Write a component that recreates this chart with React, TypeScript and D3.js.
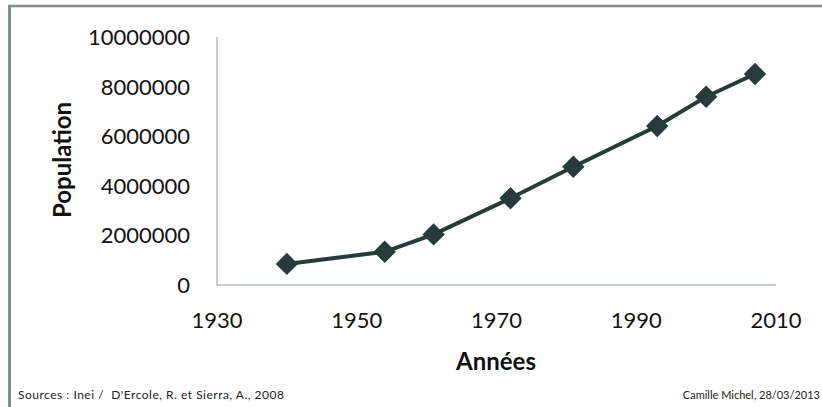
import * as d3 from "d3";

const WIDTH = 822;
const HEIGHT = 407;

const years = [1940, 1954, 1961, 1972, 1981, 1993, 2000, 2007];
const population = [850000, 1340000, 2040000, 3500000, 4770000, 6410000, 7590000, 8510000];
const xTicks = [1930, 1950, 1970, 1990, 2010];
const yTicks = [0, 2000000, 4000000, 6000000, 8000000, 10000000];

const LINE_COLOR = "#263b3a";
const AXIS_COLOR = "#8d9c9a";
const FONT = "Lato, 'Open Sans', sans-serif";

export default function App() {
  const xScale = d3.scaleLinear().domain([1930, 2010]).range([217, 776]);
  const yScale = d3.scaleLinear().domain([0, 10000000]).range([285, 37]);

  const points = years.map((y, i) => ({ year: y, value: population[i] }));

  const line = d3
    .line<{ year: number; value: number }>()
    .x((d) => xScale(d.year))
    .y((d) => yScale(d.value));

  const diamond = d3.symbol(d3.symbolSquare, 250)();

  return (
    <svg
      width={WIDTH}
      height={HEIGHT}
      style={{ position: "absolute", left: 0, top: 0, background: "white" }}
      fontFamily={FONT}
    >
      {/* frame, cropped at right and bottom */}
      <line x1={9.5} x2={9.5} y1={5} y2={HEIGHT} stroke="#7f8f8c" strokeWidth={3} />
      <line x1={8} x2={WIDTH} y1={6} y2={6} stroke="#7f8f8c" strokeWidth={2.5} />

      {/* axes */}
      <line x1={xScale(1930)} x2={xScale(1930)} y1={yScale(10000000)} y2={yScale(0)} stroke={AXIS_COLOR} strokeWidth={1} />
      <line x1={xScale(1930)} x2={xScale(2010)} y1={yScale(0)} y2={yScale(0)} stroke={AXIS_COLOR} strokeWidth={1} />

      {yTicks.map((t) => (
        <text key={t} x={190} y={yScale(t)} dy="0.36em" textAnchor="end" fontSize={22} fill="#111">
          {t}
        </text>
      ))}
      {xTicks.map((t) => (
        <text key={t} x={xScale(t)} y={328} textAnchor="middle" fontSize={22} fill="#111">
          {t}
        </text>
      ))}

      <text
        transform={`translate(71,160) rotate(-90)`}
        textAnchor="middle"
        fontSize={24}
        fontWeight="bold"
        fill="#111"
      >
        Population
      </text>
      <text x={496} y={370} textAnchor="middle" fontSize={24} fontWeight="bold" fill="#111">
        Années
      </text>

      <path d={line(points) || ""} fill="none" stroke={LINE_COLOR} strokeWidth={4} />
      {points.map((d) => (
        <path
          key={d.year}
          d={diamond || ""}
          transform={`translate(${xScale(d.year)},${yScale(d.value)}) rotate(45)`}
          fill={LINE_COLOR}
        />
      ))}

      <text x={18} y={399} fontSize={12} letterSpacing={0.5} fill="#222" style={{ whiteSpace: "pre" }}>
        {"Sources : Inei /  D'Ercole, R. et Sierra, A., 2008"}
      </text>
      <text x={820} y={399} textAnchor="end" fontSize={11} fill="#222">
        Camille Michel, 28/03/2013
      </text>
    </svg>
  );
}
